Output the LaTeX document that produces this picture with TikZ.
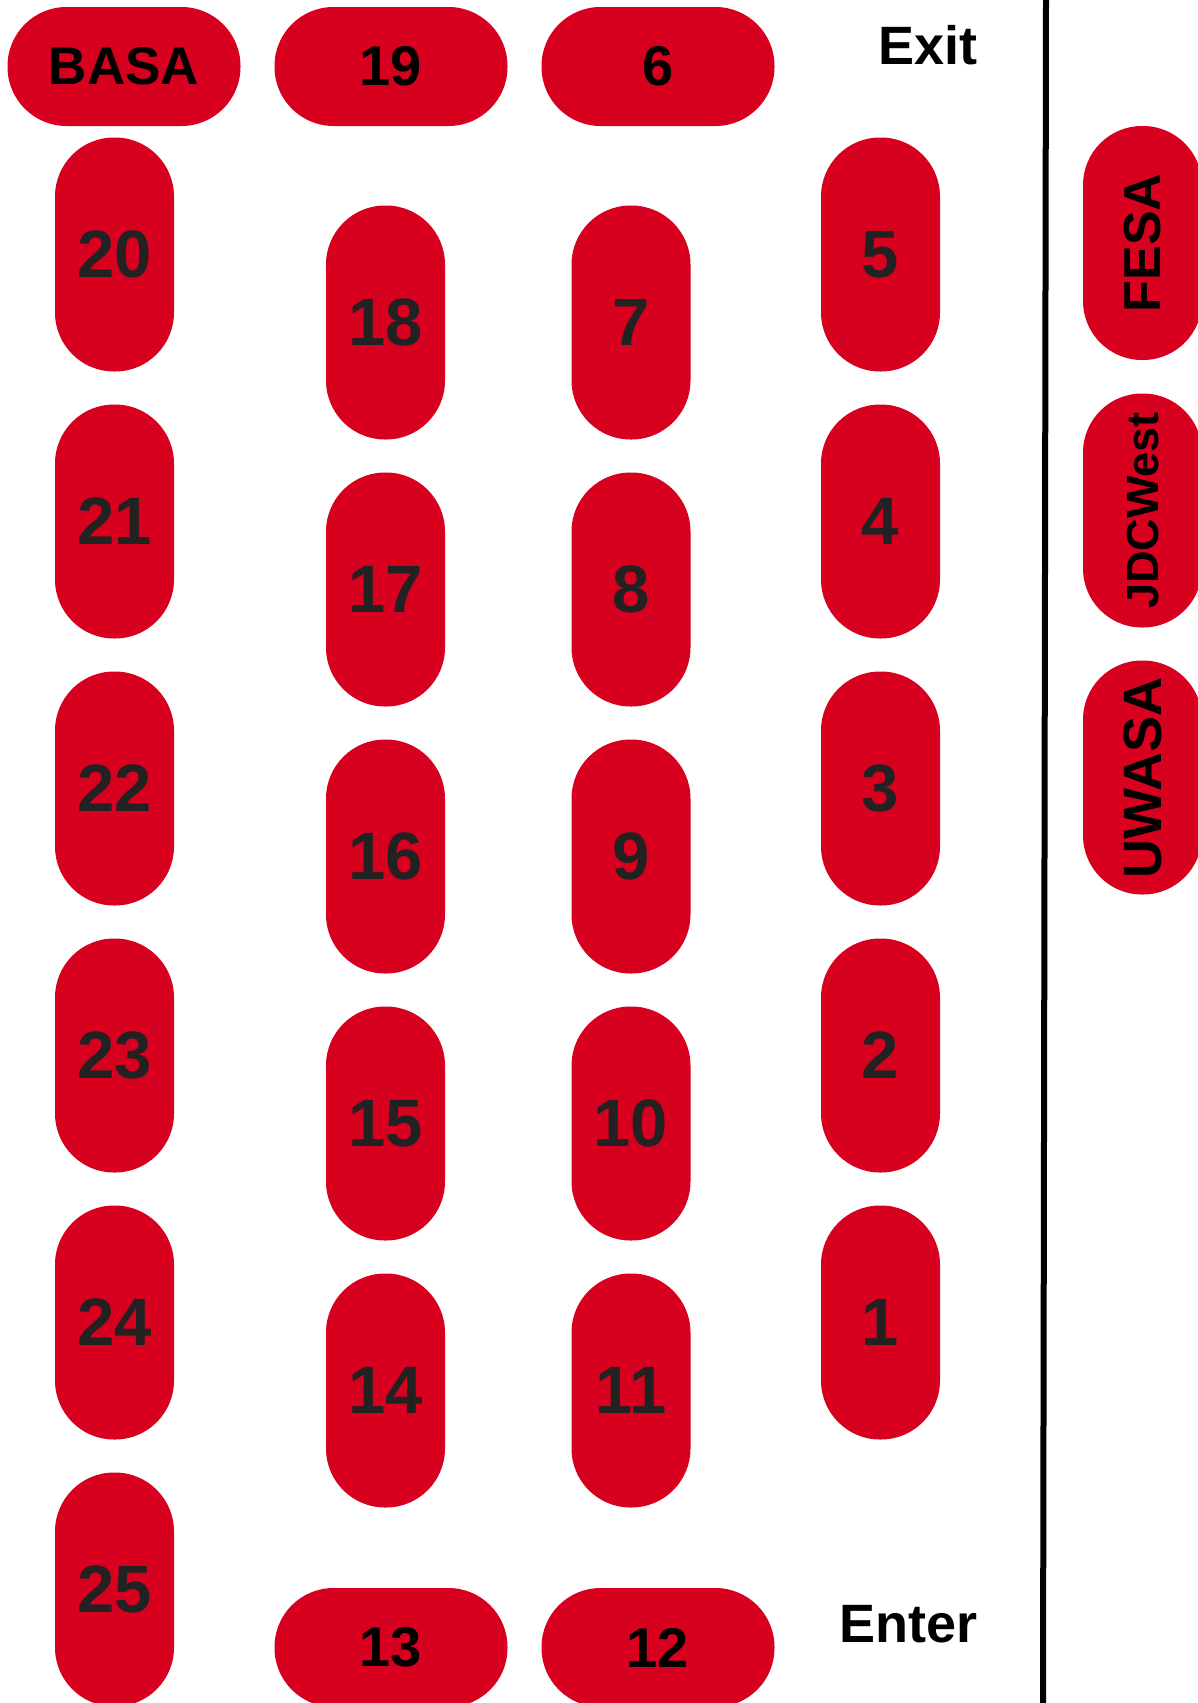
\documentclass[tikz,border=0pt]{standalone}
\usepackage{fontspec}
\setmainfont{Liberation Sans}
\usetikzlibrary{positioning}
\definecolor{crimson}{RGB}{215,0,30}
\definecolor{ink}{RGB}{34,34,34}
\tikzset{
  seat/.style={fill=crimson,rounded corners=59pt,minimum width=119pt,minimum height=234pt,
    inner sep=0pt,text=ink,font=\fontsize{67}{67}\selectfont\bfseries},
  bench/.style={fill=crimson,rounded corners=59pt,minimum width=233pt,minimum height=119pt,
    inner sep=0pt,text=black,font=\fontsize{56}{56}\selectfont\bfseries},
  club/.style={bench,minimum width=234pt,rotate=90,font=\fontsize{#1}{#1}\selectfont\bfseries},
  club/.default=54,
  sign/.style={inner sep=0pt,font=\fontsize{54}{54}\selectfont\bfseries},
}

\begin{document}
\begin{tikzpicture}[x=1pt,y=-1pt]
  \useasboundingbox (0,0) rectangle (1198,1703);
  \clip (0,0) rectangle (1198,1703);
  % top and bottom benches
  \node[bench,font=\fontsize{53}{53}\selectfont\bfseries] (basa) at (124,66.5) {BASA};
  \node[bench] (p19) at (391,66.5) {19};
  \node[bench] (p6) at (658,66.5) {6};
  \node[bench] (p13) at (391,1647.5) {13};
  \node[bench] (p12) at (658,1647.5) {12};
  % seat columns
  \foreach \n [count=\k from 0] in {20,...,25}
    \node[seat] (p\n) at (114.5,{254.5+267*\k}) {\n};
  \foreach \n [count=\k from 0] in {18,17,16,15,14}
    \node[seat] (p\n) at (385.5,{322.5+267*\k}) {\n};
  \foreach \n [count=\k from 0] in {7,...,11}
    \node[seat] (p\n) at (631,{322.5+267*\k}) {\n};
  \foreach \n [count=\k from 0] in {5,4,3,2,1}
    \node[seat] (p\n) at (880.5,{254.5+267*\k}) {\n};
  % doors
  \node[sign,anchor=base east] (exit) at (978,64) {Exit};
  \node[sign,anchor=base east] (enter) at (978,1642) {Enter};
  % wall
  \coordinate (walltop) at (1046,0);
  \coordinate (wallbot) at (1043,1703);
  \draw[line width=6pt] (walltop) -- (wallbot);
  % clubs behind the wall
  \node[club=52] (fesa) at (1142.5,243) {FESA};
  \node[club=45] (jdcwest) at (1142.5,510.5) {JDCWest};
  \node[club] (uwasa) at (1142.5,777.5) {UWASA};
\end{tikzpicture}
\end{document}
